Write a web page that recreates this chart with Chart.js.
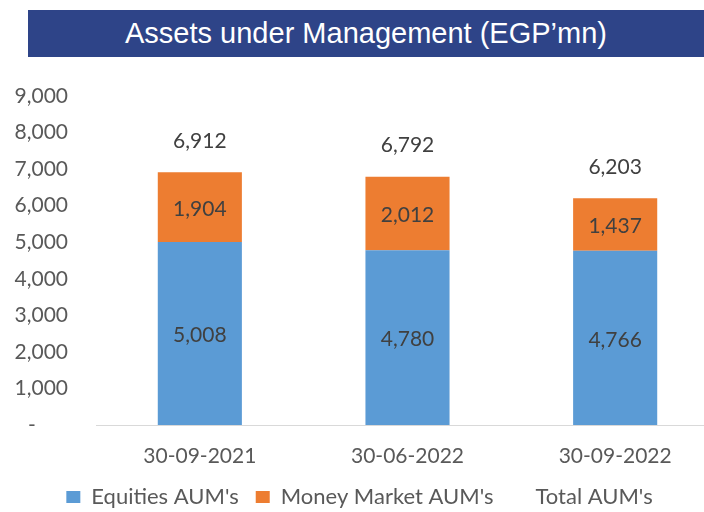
<!DOCTYPE html>
<html>
<head>
<meta charset="utf-8">
<script src="https://cdn.jsdelivr.net/npm/chart.js"></script>
<style>
  html, body { margin: 0; padding: 0; background: #fff; overflow: hidden; }
  .banner {
    position: absolute; left: 28px; top: 10px; width: 676px; height: 47px;
    background: #2E4488; color: #fff; z-index: 2;
    font-family: "Liberation Sans", Arial, sans-serif; font-size: 29px;
    line-height: 47px; text-align: center;
  }
  .chart-box { position: absolute; left: 0; top: 0; width: 722px; height: 518px; }
</style>
</head>
<body>
<div class="banner">Assets under Management (EGP’mn)</div>
<div class="chart-box"><canvas id="aumChart"></canvas></div>

<script>
  const categories = ["30-09-2021", "30-06-2022", "30-09-2022"];
  const equities = [5008, 4780, 4766];
  const moneyMarket = [1904, 2012, 1437];
  const totals = [6912, 6792, 6203];
  const yTicks = [0, 1000, 2000, 3000, 4000, 5000, 6000, 7000, 8000, 9000];

  function fmt(n) {
    return n.toLocaleString("en-US");
  }

  // values in the bars and the totals above them
  const barLabels = {
    id: "barLabels",
    afterDatasetsDraw(chart) {
      const ctx = chart.ctx;
      ctx.save();
      ctx.font = "21px Lato";
      ctx.fillStyle = "#404040";
      ctx.textAlign = "center";
      ctx.textBaseline = "middle";
      [0, 1].forEach(i => {
        chart.getDatasetMeta(i).data.forEach((bar, j) => {
          ctx.fillText(fmt(chart.data.datasets[i].data[j]), bar.x, (bar.y + bar.base) / 2 + 2);
        });
      });
      chart.getDatasetMeta(2).data.forEach((pt, j) => {
        ctx.fillText(fmt(totals[j]), pt.x, pt.y - 31);
      });
      ctx.restore();
    }
  };

  Chart.defaults.font.family = "Lato";
  Chart.defaults.font.size = 21;
  Chart.defaults.color = "#595959";

  new Chart(document.getElementById("aumChart"), {
    type: "bar",
    data: {
      labels: categories,
      datasets: [
        { label: "Equities AUM's", data: equities, backgroundColor: "#5B9BD5", stack: "aum" },
        { label: "Money Market AUM's", data: moneyMarket, backgroundColor: "#ED7D31", stack: "aum" },
        {
          label: "Total AUM's", type: "line", data: totals, showLine: false,
          pointRadius: 0, backgroundColor: "rgba(0,0,0,0)", borderColor: "rgba(0,0,0,0)", borderWidth: 0
        }
      ]
    },
    options: {
      responsive: true,
      maintainAspectRatio: false,
      animation: false,
      events: [],
      datasets: { bar: { barPercentage: 1, categoryPercentage: 0.405 } },
      layout: { padding: { top: 96, left: 0, right: 3, bottom: 0 } },
      plugins: {
        tooltip: { enabled: false },
        legend: {
          position: "bottom",
          labels: { boxWidth: 14, boxHeight: 12, padding: 17, font: { size: 22 } }
        }
      },
      scales: {
        x: {
          stacked: true,
          grid: { display: false, drawTicks: false },
          border: { display: true, color: "#D9D9D9", width: 1 },
          ticks: { padding: 21, font: { size: 21, lineHeight: 1 } },
          afterFit: axis => { axis.height = 44; }
        },
        y: {
          stacked: true,
          min: 0,
          max: 9000,
          afterBuildTicks: axis => { axis.ticks = yTicks.map(v => ({ value: v })); },
          afterFit: axis => { axis.width = 96; },
          grid: { display: false, drawTicks: false },
          border: { display: false },
          ticks: {
            padding: 28,
            callback: v => v === 0 ? "-      " : fmt(v)
          }
        }
      }
    },
    plugins: [barLabels]
  });
</script>
</body>
</html>
